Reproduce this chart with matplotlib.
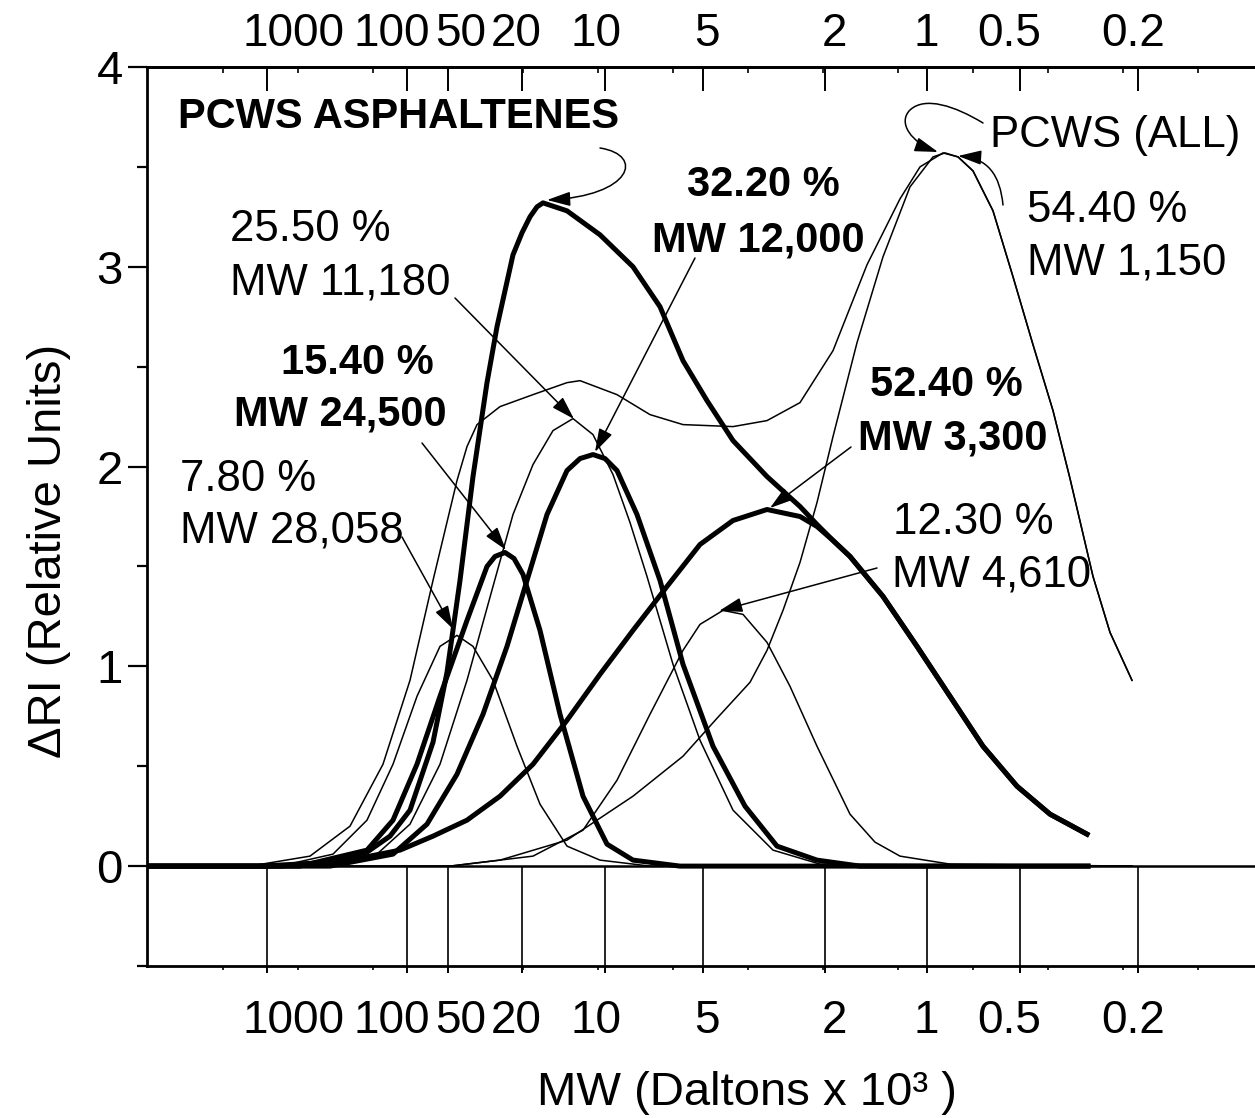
import matplotlib
matplotlib.use("Agg")
import matplotlib.pyplot as plt
from matplotlib.path import Path
from matplotlib.patches import FancyArrowPatch
from matplotlib.transforms import Affine2D, ScaledTranslation

plt.rcParams['font.family'] = ['Liberation Sans', 'DejaVu Sans']

# ---------------- data (x = elution position, arbitrary linear units; y = dRI) -------------
mw_labels = ['1000', '100', '50', '20', '10', '5', '2', '1', '0.5', '0.2']
mw_pos = [11.87, 25.87, 30.03, 37.37, 45.70, 55.53, 67.70, 77.93, 87.20, 99.03]

# PCWS asphaltenes (thick lines)
asph_total_x = [0, 11.2, 16.9, 21.9, 24.2, 26.2, 28.5, 29.9, 31.2, 32.5, 33.9, 34.9, 36.5, 37.4,
                38.2, 38.9, 39.5, 41.9, 45.2, 48.5, 51.2, 53.5, 55.9, 58.5, 61.9, 65.2, 66.9,
                68.5, 70.2, 73.5, 76.9, 80.2, 83.5, 86.9, 90.2, 93.9]
asph_total_y = [0, 0.0, 0.015, 0.07, 0.15, 0.28, 0.62, 0.97, 1.43, 1.95, 2.42, 2.70, 3.06, 3.17,
                3.25, 3.30, 3.32, 3.28, 3.16, 3.00, 2.80, 2.53, 2.33, 2.13, 1.95, 1.80, 1.71,
                1.63, 1.55, 1.35, 1.10, 0.85, 0.60, 0.40, 0.26, 0.16]

asph_c1_x = [0, 15.2, 21.9, 24.5, 26.9, 29.2, 31.9, 33.9, 34.7, 35.7, 36.6, 37.5, 39.2, 41.2,
             43.5, 45.9, 48.5, 53.2, 94.0]
asph_c1_y = [0, 0.0, 0.08, 0.23, 0.51, 0.85, 1.23, 1.50, 1.55, 1.57, 1.54, 1.46, 1.18, 0.76,
             0.35, 0.11, 0.03, 0.0, 0.0]

asph_c2_x = [0, 18.2, 24.5, 27.9, 30.9, 33.5, 35.9, 37.9, 39.9, 41.9, 43.2, 44.5, 45.7, 46.9,
             48.9, 51.2, 53.5, 56.5, 59.7, 62.9, 66.9, 71.2, 94.0]
asph_c2_y = [0, 0.0, 0.06, 0.21, 0.46, 0.76, 1.10, 1.43, 1.76, 1.98, 2.04, 2.06, 2.04, 1.98,
             1.76, 1.43, 1.01, 0.60, 0.30, 0.10, 0.03, 0.0, 0.0]

asph_c3_x = [0, 13.2, 20.2, 25.2, 28.5, 31.9, 35.2, 38.5, 41.9, 45.2, 48.5, 51.9, 55.2, 58.5,
             61.9, 65.2, 66.9, 68.5, 70.2, 73.5, 76.9, 80.2, 83.5, 86.9, 90.2, 93.9]
asph_c3_y = [0, 0.0, 0.03, 0.08, 0.15, 0.23, 0.35, 0.51, 0.73, 0.96, 1.18, 1.40, 1.61, 1.73,
             1.785, 1.75, 1.70, 1.63, 1.55, 1.35, 1.10, 0.85, 0.60, 0.40, 0.26, 0.16]

# PCWS (all) (thin lines)
all_total_x = [0, 10.2, 16.2, 20.2, 23.5, 26.2, 28.5, 30.9, 31.9, 32.9, 35.2, 38.5, 41.9, 43.2,
               46.9, 50.2, 53.5, 58.5, 61.9, 65.2, 68.5, 71.9, 75.2, 77.2, 79.5, 81.0, 82.5,
               84.5, 86.5, 88.5, 90.5, 92.2, 94.5, 96.2, 98.4]
all_total_y = [0, 0.0, 0.05, 0.20, 0.51, 0.93, 1.43, 1.93, 2.10, 2.21, 2.30, 2.36, 2.42, 2.43,
               2.36, 2.26, 2.21, 2.20, 2.23, 2.32, 2.58, 3.01, 3.34, 3.50, 3.57, 3.55, 3.48,
               3.28, 2.95, 2.61, 2.28, 1.94, 1.45, 1.17, 0.93]

all_c1_x = [0, 13.2, 18.5, 21.9, 24.5, 26.9, 29.2, 30.9, 32.5, 34.5, 36.9, 39.2, 41.9, 45.2,
            50.2, 98.4]
all_c1_y = [0, 0.0, 0.06, 0.23, 0.51, 0.85, 1.10, 1.155, 1.10, 0.93, 0.60, 0.31, 0.10, 0.03,
            0.0, 0.0]

all_c2_x = [0, 15.2, 19.2, 22.9, 26.2, 29.2, 31.9, 34.5, 36.5, 38.5, 40.5, 42.5, 44.5, 46.5,
            48.2, 49.9, 52.5, 55.2, 58.5, 62.5, 67.2, 98.4]
all_c2_y = [0, 0.0, 0.02, 0.06, 0.21, 0.51, 0.93, 1.40, 1.76, 2.01, 2.18, 2.24, 2.16, 1.96,
            1.72, 1.45, 1.01, 0.63, 0.28, 0.08, 0.01, 0.0]

all_c3_x = [0, 30.2, 38.5, 43.5, 46.9, 50.2, 53.5, 55.2, 57.5, 59.5, 61.9, 64.2, 66.9, 70.2,
            72.7, 75.2, 80.2, 98.4]
all_c3_y = [0, 0.0, 0.05, 0.18, 0.43, 0.76, 1.08, 1.21, 1.28, 1.26, 1.12, 0.90, 0.60, 0.26,
            0.12, 0.05, 0.01, 0.0]

all_c4_x = [0, 30.2, 35.2, 41.9, 48.5, 53.5, 56.9, 60.2, 61.9, 63.5, 65.2, 66.9, 68.5, 70.9,
            73.5, 76.2, 78.5, 79.7, 81.0, 82.5, 84.5, 86.5, 88.5, 90.5, 92.2, 94.5, 96.2, 98.4]
all_c4_y = [0, 0.0, 0.03, 0.13, 0.35, 0.55, 0.74, 0.92, 1.08, 1.28, 1.52, 1.82, 2.15, 2.62,
            3.05, 3.40, 3.55, 3.57, 3.55, 3.48, 3.28, 2.95, 2.61, 2.28, 1.94, 1.45, 1.17, 0.93]

y_ticks = [0, 1, 2, 3, 4]
y_minor = [-0.5, 0.5, 1.5, 2.5, 3.5]

# ---------------- figure ----------------
W, H = 1255, 1118
fig = plt.figure(figsize=(W / 100, H / 100), dpi=100)
ax = fig.add_axes([147 / W, (H - 966) / H, 1108 / W, 899 / H])
ax.set_xlim(-0.1, 110.7)
ax.set_ylim(-0.5, 4.0)

THICK, THIN = 3.6, 1.1
kw = dict(color='black', solid_joinstyle='round')
for xs, ys in [(all_c1_x, all_c1_y), (all_c2_x, all_c2_y), (all_c3_x, all_c3_y),
               (all_c4_x, all_c4_y), (all_total_x, all_total_y)]:
    ax.plot(xs, ys, lw=THIN, **kw)
for xs, ys in [(asph_c1_x, asph_c1_y), (asph_c2_x, asph_c2_y), (asph_c3_x, asph_c3_y),
               (asph_total_x, asph_total_y)]:
    ax.plot(xs, ys, lw=THICK, **kw)

ax.axhline(0, color='black', lw=1.8)
ax.vlines(mw_pos, -0.5, 0, color='black', lw=1.2)

# spines
for s in ['left', 'top', 'bottom']:
    ax.spines[s].set_linewidth(2.0)
ax.spines['right'].set_visible(False)

# y axis
ax.set_yticks(y_ticks)
ax.set_yticks(y_minor, minor=True)
ax.tick_params(axis='y', which='major', direction='out', length=13.5, width=1.6,
               labelsize=34, pad=4)
ax.tick_params(axis='y', which='minor', direction='out', length=7, width=1.6)
ax.set_ylabel('ΔRI (Relative Units)', fontsize=34)
ax.yaxis.set_label_coords(-0.0686, 0.4616)

# x axis (bottom): MW calibration marks
minor_x = [7.5 * k for k in range(1, 15)]
ax.set_xticks(mw_pos)
ax.set_xticklabels(mw_labels)
ax.set_xticks(minor_x, minor=True)
ax.tick_params(axis='x', which='major', top=False, bottom=True, labeltop=False,
               labelbottom=True, labelsize=33, width=1.4, direction='out', length=5, pad=19)
ax.tick_params(axis='x', which='minor', top=False, bottom=True, direction='out', length=3,
               width=1.2)
ax.set_xlabel('MW (Daltons x 10³ )', fontsize=34)
ax.xaxis.set_label_coords(0.5415, -0.1168)

# x axis (top): same MW marks
sec = ax.secondary_xaxis('top')
sec.set_xticks(mw_pos)
sec.set_xticklabels(mw_labels)
sec.set_xticks(minor_x, minor=True)
sec.tick_params(axis='x', which='major', direction='in', length=17, width=1.4,
                labelsize=33, pad=8)
sec.tick_params(axis='x', which='minor', direction='in', length=4, width=1.2)
sec.spines['top'].set_linewidth(2.0)

# manual label placement offsets (pixels), applied after all tick_params calls
label_dx = [27, -15, 12, -6, -9, 4, 9, -1, -11, -5]
for axis in (ax.xaxis, sec.xaxis):
    for t, dx in zip(axis.get_major_ticks(), label_dx):
        for lab in (t.label1, t.label2):
            lab.set_transform(lab.get_transform() +
                              ScaledTranslation(dx / 100, 0, fig.dpi_scale_trans))

# ---------------- annotations (pixel layout coordinates) ----------------
tpx = Affine2D().scale(1 / W, -1 / H).translate(0, 1) + fig.transFigure


def txt(x, y, s, bold=False, size=31.5, ha='left'):
    fig.text(x, y, s, transform=tpx, fontsize=size, ha=ha, va='top',
             fontweight='bold' if bold else 'normal')


txt(178, 97, 'PCWS ASPHALTENES', bold=True, size=30)
txt(990, 115, 'PCWS (ALL)')
txt(1027, 190, '54.40 %')
txt(1027, 242, 'MW 1,150')
txt(230, 209, '25.50 %')
txt(230, 263, 'MW 11,180')
txt(281, 343, '15.40 %', bold=True, size=30)
txt(234, 394, 'MW 24,500', bold=True, size=30)
txt(180, 459, '7.80 %')
txt(180, 510, 'MW 28,058')
txt(687, 165, '32.20 %', bold=True, size=30)
txt(652, 220, 'MW 12,000', bold=True, size=30)
txt(870, 365, '52.40 %', bold=True, size=30)
txt(858, 418, 'MW 3,300', bold=True, size=30)
txt(893, 502, '12.30 %')
txt(892, 555, 'MW 4,610')

astyle = '-|>,head_length=0.55,head_width=0.17'
akw = dict(transform=tpx, arrowstyle=astyle, mutation_scale=26, lw=1.1, color='black',
           shrinkA=0, shrinkB=0)

for a, b in [((455, 298), (574, 419)), ((422, 443), (506, 550)), ((402, 537), (453, 629)),
             ((695, 258), (595, 452)), ((851, 447), (770, 508)), ((877, 568), (719, 611))]:
    fig.add_artist(FancyArrowPatch(posA=a, posB=b, **akw))

C4 = Path.CURVE4
paths = [
    Path([(600, 148), (645, 155), (632, 196), (547, 200)], [Path.MOVETO, C4, C4, C4]),
    Path([(983, 123), (955, 106), (925, 96), (910, 110), (897, 123), (912, 143), (938, 152)],
         [Path.MOVETO, C4, C4, C4, C4, C4, C4]),
    Path([(1003, 205), (1000, 175), (988, 158), (958, 156)], [Path.MOVETO, C4, C4, C4]),
]
for p in paths:
    fig.add_artist(FancyArrowPatch(path=p, **akw))

fig.savefig('out.png', dpi=100)
